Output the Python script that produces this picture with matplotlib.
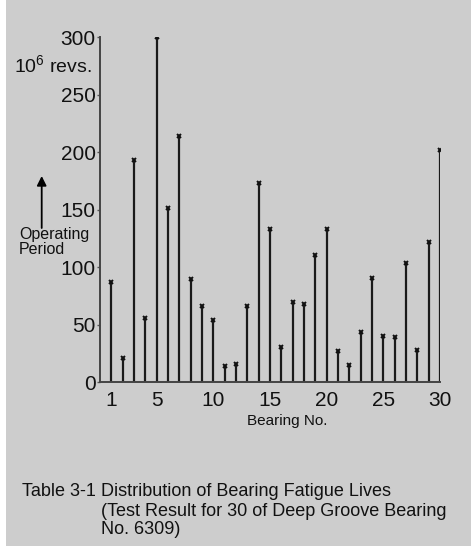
import numpy as np
import matplotlib
matplotlib.use('Agg')
import matplotlib.pyplot as plt
from matplotlib.patches import Rectangle

plt.rcParams['font.family'] = ['Liberation Sans', 'DejaVu Sans']
plt.rcParams['mathtext.fontset'] = 'custom'
plt.rcParams['mathtext.rm'] = 'Liberation Sans'

# Fatigue life of each bearing, 10^6 revs
bearing_no = list(range(1, 31))
life = [87, 21, 193, 56, 300, 152, 214, 90, 66, 54,
        14, 16, 66, 173, 133, 31, 70, 68, 111, 133,
        27, 15, 44, 91, 40, 39, 104, 28, 122, 202]
xtick_pos = [1, 5, 10, 15, 20, 25, 30]
ytick_pos = [0, 50, 100, 150, 200, 250, 300]

W, H = 471, 546
bg = '#cdcdcd'
ink = '#111111'
fig = plt.figure(figsize=(W / 100, H / 100), dpi=100)
fig.patch.set_facecolor(bg)
fig.patches.append(Rectangle((0, 0), 6 / W, 1, transform=fig.transFigure,
                             facecolor='white', edgecolor='none'))

ax = fig.add_axes([100 / W, (H - 382.3) / H, 340 / W, 345 / H])
ax.set_facecolor(bg)
ax.vlines(bearing_no, 0, life, color='#1a1a1a', lw=1.6)
ax.plot(bearing_no, life, ls='none', marker='x', ms=3.2, mew=1.4, color=ink)

ax.set_xlim(0, 30)
ax.set_ylim(0, 300)
for s in ['top', 'right']:
    ax.spines[s].set_visible(False)
for s in ['left', 'bottom']:
    ax.spines[s].set_color('#444444')
    ax.spines[s].set_linewidth(1.4)

ax.set_xticks(xtick_pos)
ax.set_yticks(ytick_pos)
ax.tick_params(axis='x', length=0, pad=6, labelsize=15, labelcolor=ink)
ax.tick_params(axis='y', length=2.5, width=1, color='#555555', pad=0.5,
               labelsize=15, labelcolor=ink)

def px(x, y):
    return x / W, 1 - y / H

fig.text(*px(287, 421), 'Bearing No.', fontsize=11, va='center', ha='center', color=ink)
fig.text(*px(14, 66), '10$^6$ revs.', fontsize=14, va='center', ha='left', color=ink)
fig.text(*px(19, 242), 'Operating\nPeriod', fontsize=11.5, va='center', ha='left',
         color=ink, linespacing=0.95)
ax.annotate('', xy=px(41.7, 176), xytext=px(41.7, 228),
            xycoords='figure fraction', textcoords='figure fraction',
            arrowprops=dict(arrowstyle='-|>', color='black', lw=1.3,
                            mutation_scale=14, shrinkA=0, shrinkB=0))

cap = dict(fontsize=13, va='center', ha='left', color=ink)
fig.text(*px(22, 491), 'Table 3-1', **cap)
fig.text(*px(101, 491), 'Distribution of Bearing Fatigue Lives', **cap)
fig.text(*px(101, 511), '(Test Result for 30 of Deep Groove Bearing', **cap)
fig.text(*px(101, 530), 'No. 6309)', **cap)

fig.savefig('out.png', dpi=100, facecolor=bg)
